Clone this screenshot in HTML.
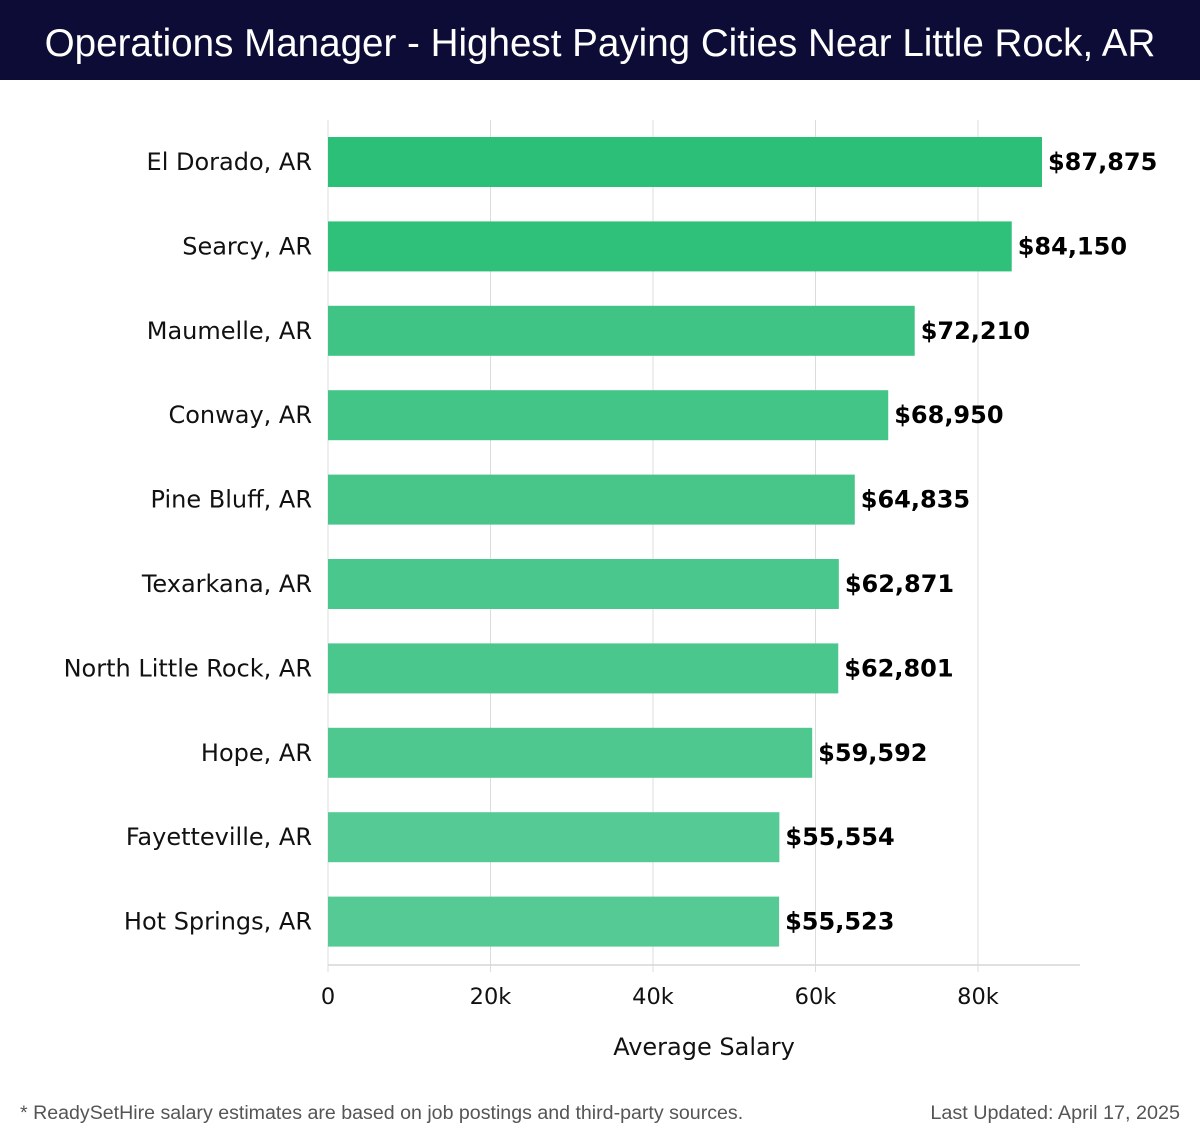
<!DOCTYPE html>
<html><head><meta charset="utf-8"><style>
html,body{margin:0;padding:0;background:#fff;width:1200px;height:1140px;overflow:hidden}
#hdr{position:absolute;left:0;top:0;width:1200px;height:80px;background:#0d0c36;color:#fff;font:300 38.6px "Liberation Sans",sans-serif;text-align:center;line-height:88px;white-space:nowrap}
svg{position:absolute;left:0;top:0}
</style></head><body>
<div id="hdr">Operations Manager - Highest Paying Cities Near Little Rock, AR</div>
<svg id="chart" width="1200" height="1140"></svg>
<script>
const cities=["El Dorado, AR","Searcy, AR","Maumelle, AR","Conway, AR","Pine Bluff, AR","Texarkana, AR","North Little Rock, AR","Hope, AR","Fayetteville, AR","Hot Springs, AR"];
const salaries=[87875,84150,72210,68950,64835,62871,62801,59592,55554,55523];
const tickValues=[0,20000,40000,60000,80000];
const tickLabels=["0","20k","40k","60k","80k"];
const colors=["#2bbf78","#2fc07a","#3fc485","#43c588","#48c68a","#4ac78c","#4ac78c","#4fc88f","#55ca94","#55ca94"];
const NS="http://www.w3.org/2000/svg";
const svg=document.getElementById('chart');
const x0=328,pxPerUnit=(978-328)/80000,plotTop=120,plotBottom=965,plotRight=1080;
const xs=v=>x0+v*pxPerUnit;
const step=84.4,firstCenter=162,barH=50;
const yc=i=>firstCenter+i*step;
function mk(t,a){const e=document.createElementNS(NS,t);for(const k in a)e.setAttribute(k,a[k]);svg.appendChild(e);return e;}
tickValues.forEach((v,i)=>{
  const g=mk('line',{x1:xs(v),x2:xs(v),y1:plotTop,y2:plotBottom+7,stroke:'#dcdcdc','stroke-width':1});
  
  
  const t=mk('text',{x:xs(v),y:1004,'text-anchor':'middle','font-family':'DejaVu Sans, sans-serif','font-size':22.5,fill:'#111'});
  t.textContent=tickLabels[i];
  
  
});
const ax=mk('line',{x1:x0,x2:plotRight,y1:plotBottom,y2:plotBottom,stroke:'#d6d6d6','stroke-width':1.5});


cities.forEach((c,i)=>{
  const y=yc(i);
  const r=mk('rect',{x:x0,y:y-barH/2,width:xs(salaries[i])-x0,height:barH,fill:colors[i]});
  
  
  const l=mk('text',{x:312,y:y+8,'text-anchor':'end','font-family':'DejaVu Sans, sans-serif','font-size':24,fill:'#111'});
  l.textContent=c;
  
  
  const v=mk('text',{x:xs(salaries[i])+6,y:y+8,'font-family':'DejaVu Sans, sans-serif','font-size':24,'font-weight':'bold',fill:'#000'});
  v.textContent='$'+salaries[i].toLocaleString('en-US');
  
  
});
const xt=mk('text',{x:704,y:1055,'text-anchor':'middle','font-family':'DejaVu Sans, sans-serif','font-size':24,fill:'#111'});
xt.textContent='Average Salary';


const f1=mk('text',{x:20,y:1119,'font-family':'Liberation Sans, sans-serif','font-size':19.6,fill:'#555'});
f1.textContent='* ReadySetHire salary estimates are based on job postings and third-party sources.';


const f2=mk('text',{x:1180,y:1119,'text-anchor':'end','font-family':'Liberation Sans, sans-serif','font-size':19.8,fill:'#555'});
f2.textContent='Last Updated: April 17, 2025';


</script>
</body></html>
